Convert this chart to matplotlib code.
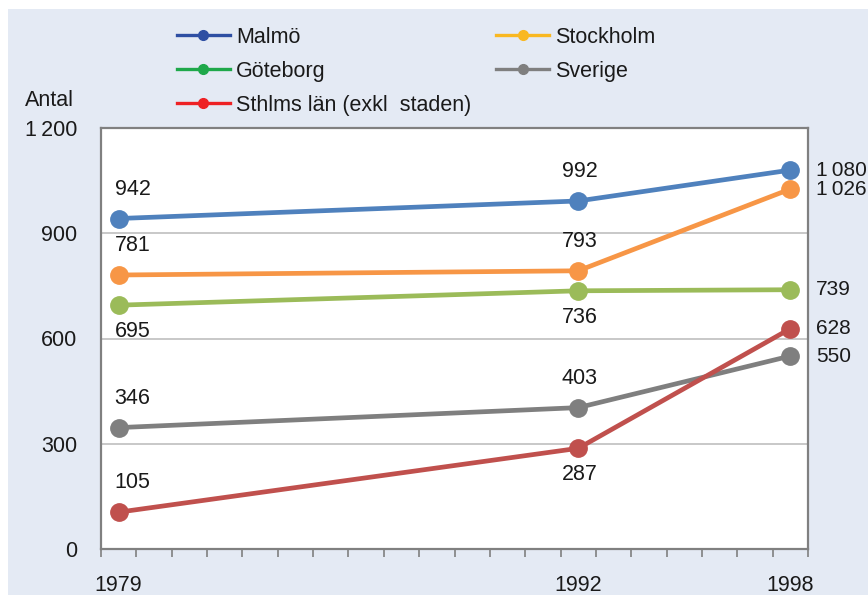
import matplotlib
matplotlib.use("Agg")
import matplotlib.pyplot as plt
from matplotlib.lines import Line2D
from matplotlib.patches import Rectangle

plt.rcParams['font.family'] = ['Liberation Sans', 'DejaVu Sans']

# Data
years = [1979, 1992, 1998]
malmo = [942, 992, 1080]
stockholm = [781, 793, 1026]
goteborg = [695, 736, 739]
sverige = [346, 403, 550]
sthlms_lan = [105, 287, 628]

series_names = ["Malmö", "Stockholm", "Göteborg", "Sverige", "Sthlms län (exkl  staden)"]
series_values = [malmo, stockholm, goteborg, sverige, sthlms_lan]
line_colors = ["#4F81BD", "#F79646", "#9BBB59", "#7F7F7F", "#C0504D"]
legend_colors = ["#2E4FA3", "#F9B821", "#1EA84A", "#7F7F7F", "#EE2124"]

# label placement per point: 'a' above, 'b' below (last point always right)
placements = [
    ["a", "a"],
    ["a", "a"],
    ["b", "b"],
    ["a", "a"],
    ["a", "b"],
]

y_ticks = [0, 300, 600, 900, 1200]
x_tick_labels = [1979, 1992, 1998]


def fmt(v):
    # thousands separated by a thin space
    return f"{v:,}".replace(",", "\u2009")


W, H = 868, 595
fig = plt.figure(figsize=(W / 100, H / 100), dpi=100)
fig.patch.set_facecolor("white")
fig.add_artist(Rectangle((8 / W, 0), 1, 1 - 9 / H, transform=fig.transFigure,
                         facecolor="#E4EAF4", edgecolor="none", zorder=-10))

ax = fig.add_axes([101 / W, 1 - 549 / H, 707 / W, 421 / H])
ax.set_facecolor("white")

for name, vals, col in zip(series_names, series_values, line_colors):
    ax.plot(years, vals, color=col, lw=3.4, marker="o", ms=12.5,
            solid_capstyle="round", zorder=3, clip_on=False)

fs = 15.5
for vals, pl in zip(series_values, placements):
    for i, (x, v) in enumerate(zip(years, vals)):
        if i == len(years) - 1:
            ax.annotate(fmt(v), (x, v), xytext=(18.5, 0), textcoords="offset points",
                        ha="left", va="center", fontsize=fs - 0.5, color="#1a1a1a",
                        annotation_clip=False)
        else:
            dx = 10 if i == 0 else 1
            dy = 21 if pl[i] == "a" else -19
            ax.annotate(fmt(v), (x, v), xytext=(dx, dy), textcoords="offset points",
                        ha="center", va="center", fontsize=fs, color="#1a1a1a",
                        annotation_clip=False)

ax.set_xlim(1978.5, 1998.5)
ax.set_ylim(0, 1200)

# y axis
ax.set_yticks(y_ticks)
ax.set_yticklabels([fmt(t) for t in y_ticks], fontsize=fs, color="#1a1a1a")
ax.tick_params(axis="y", length=0, pad=17)
ax.yaxis.grid(True, color="#BFBFBF", lw=1.2)
ax.set_axisbelow(True)

# x axis: tick marks between categories, labels at selected categories
ax.set_xticks([1978.5 + k for k in range(21)])
ax.set_xticklabels([])
ax.tick_params(axis="x", which="major", length=6, width=1.2, color="#808080", direction="out")
ax.set_xticks(x_tick_labels, minor=True)
ax.set_xticklabels([str(t) for t in x_tick_labels], minor=True, fontsize=fs, color="#1a1a1a")
ax.tick_params(axis="x", which="minor", length=0, pad=18.5)

for s in ax.spines.values():
    s.set_color("#808080")
    s.set_linewidth(1.6)

fig.text(25 / W, 1 - 100 / H, "Antal", fontsize=fs, color="#1a1a1a", ha="left", va="center")

# legend
order = [0, 2, 4, 1, 3]
handles = [Line2D([], [], color=legend_colors[k], lw=2.4, marker="o", ms=7) for k in order]
labels = [series_names[k] for k in order]
leg = fig.legend(handles, labels, ncol=2, loc="upper left",
                 bbox_to_anchor=(177 / W, 1 - 27 / H), frameon=False,
                 fontsize=fs, handlelength=2.45, handletextpad=0.3,
                 columnspacing=1.15, labelspacing=0.6, borderpad=0, borderaxespad=0)
for t in leg.get_texts():
    t.set_color("#1a1a1a")

fig.savefig("out.png", dpi=100, facecolor=fig.get_facecolor())
